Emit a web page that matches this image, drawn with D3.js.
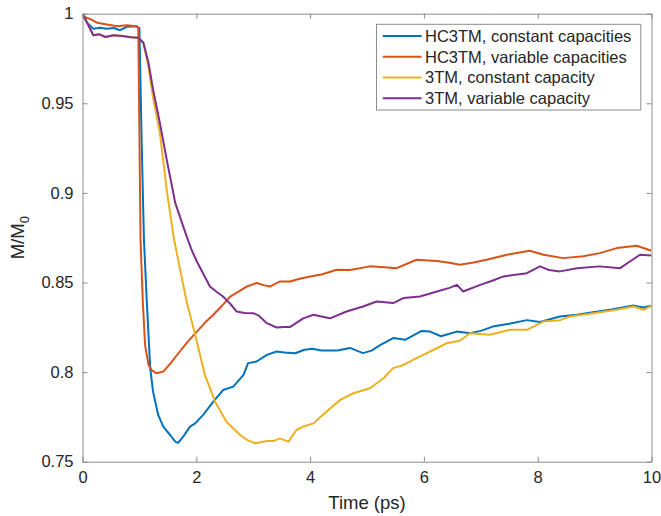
<!DOCTYPE html>
<html>
<head>
<meta charset="utf-8">
<script src="https://cdn.jsdelivr.net/npm/d3@7"></script>
<style>
  body { margin: 0; background: #fff; }
  svg text { font-family: "Liberation Sans", Arial, Helvetica, sans-serif; fill: #262626; }
</style>
</head>
<body>
<div id="chart"></div>
<script>
// series names + colors (matlab default order)
var seriesNames = ["HC3TM, constant capacities", "HC3TM, variable capacities",
                   "3TM, constant capacity", "3TM, variable capacity"];
var seriesColors = ["#0072BD", "#D95319", "#EDB120", "#7E2F8E"];

var xTicks = [0, 2, 4, 6, 8, 10];
var yTicks = [0.75, 0.8, 0.85, 0.9, 0.95, 1];

// HC3TM, constant capacities
var hcConstT = [0, 0.08, 0.19, 0.31, 0.43, 0.55, 0.66, 0.78, 0.95, 1.0, 1.04, 1.08, 1.13, 1.19, 1.24, 1.33, 1.42, 1.54, 1.63, 1.68,
    1.77, 1.89, 1.98, 2.12, 2.30, 2.47, 2.65, 2.83, 2.91, 3.06, 3.24, 3.41, 3.55, 3.74, 3.9, 4.04, 4.2, 4.48, 4.7, 4.93,
    5.08, 5.23, 5.46, 5.67, 5.96, 6.11, 6.3, 6.58, 6.81, 7.0, 7.21, 7.5, 7.81, 8.04, 8.39, 8.69, 8.97, 9.3, 9.68, 9.85, 10];
var hcConstM = [1, 0.995, 0.9916, 0.9922, 0.9916, 0.992, 0.9908, 0.9927, 0.993, 0.992, 0.928, 0.874, 0.8394, 0.8022, 0.7891, 0.7761, 0.7696, 0.7649, 0.7612, 0.7605,
    0.764, 0.7696, 0.7714, 0.7761, 0.7835, 0.790, 0.7919, 0.7985, 0.805, 0.8059, 0.8096, 0.8115, 0.811, 0.8105, 0.8125, 0.813, 0.812, 0.812, 0.8135, 0.8106,
    0.812, 0.815, 0.819, 0.818, 0.823, 0.8226, 0.820, 0.8226, 0.8217, 0.823, 0.8254, 0.827, 0.829, 0.828, 0.831, 0.832, 0.8334, 0.835, 0.8372, 0.836, 0.837];

// HC3TM, variable capacities
var hcVarT = [0, 0.05, 0.15, 0.26, 0.43, 0.61, 0.78, 0.95, 0.98, 1.02, 1.06, 1.10, 1.16, 1.22, 1.30, 1.42, 1.55, 1.71, 1.85, 2.01,
    2.15, 2.30, 2.45, 2.59, 2.75, 2.89, 3.06, 3.2, 3.30, 3.47, 3.65, 3.8, 4.0, 4.2, 4.47, 4.7, 5.05, 5.3, 5.52, 5.87,
    6.23, 6.45, 6.63, 6.85, 7.10, 7.46, 7.86, 8.1, 8.45, 8.80, 9.09, 9.39, 9.74, 10];
var hcVarM = [1, 0.998, 0.9968, 0.9949, 0.994, 0.993, 0.9935, 0.993, 0.992, 0.874, 0.8394, 0.815, 0.804, 0.801, 0.7994, 0.8003, 0.805, 0.8115, 0.817, 0.8226,
    0.8275, 0.832, 0.837, 0.842, 0.845, 0.8478, 0.8497, 0.8484, 0.8478, 0.8506, 0.8506, 0.852, 0.8534, 0.8545, 0.8571, 0.857, 0.859, 0.8585, 0.858, 0.8627,
    0.862, 0.861, 0.8599, 0.861, 0.8627, 0.8655, 0.8677, 0.8655, 0.8636, 0.8646, 0.8664, 0.8692, 0.8705, 0.8677];

// 3TM, constant capacity
var tmConstT = [0, 0.08, 0.19, 0.3, 0.4, 0.55, 0.7, 0.85, 0.98, 1.07, 1.16, 1.24, 1.36, 1.48, 1.60, 1.71, 1.83, 1.98, 2.15, 2.33,
    2.53, 2.77, 2.9, 3.03, 3.15, 3.24, 3.35, 3.47, 3.62, 3.76, 3.88, 4.06, 4.29, 4.53, 4.76, 5.05, 5.29, 5.46, 5.64, 5.87,
    6.11, 6.40, 6.63, 6.81, 7.16, 7.51, 7.81, 8.10, 8.39, 8.57, 8.98, 9.39, 9.68, 9.86, 10];
var tmConstM = [1, 0.995, 0.988, 0.9885, 0.987, 0.988, 0.9875, 0.9868, 0.9866, 0.9838, 0.970, 0.953, 0.9335, 0.9017, 0.8757, 0.858, 0.8394, 0.8208, 0.7985, 0.7835,
    0.7723, 0.7649, 0.762, 0.7603, 0.761, 0.7616, 0.7615, 0.763, 0.7612, 0.7677, 0.7696, 0.7714, 0.778, 0.7845, 0.7882, 0.791, 0.7966, 0.8022, 0.804, 0.8078,
    0.8115, 0.8161, 0.8175, 0.8217, 0.8208, 0.8236, 0.8236, 0.8282, 0.829, 0.831, 0.8329, 0.8348, 0.8366, 0.8348, 0.837];

// 3TM, variable capacity
var tmVarT = [0, 0.08, 0.19, 0.3, 0.4, 0.55, 0.7, 0.85, 0.98, 1.07, 1.16, 1.24, 1.36, 1.48, 1.63, 1.77, 1.83, 1.92, 2.01, 2.12,
    2.24, 2.35, 2.47, 2.6, 2.71, 2.85, 3.0, 3.1, 3.24, 3.41, 3.55, 3.65, 3.88, 4.06, 4.2, 4.35, 4.64, 4.93, 5.17, 5.46,
    5.64, 5.93, 6.23, 6.45, 6.58, 6.69, 6.99, 7.2, 7.40, 7.81, 8.04, 8.2, 8.39, 8.69, 9.09, 9.45, 9.62, 9.80, 10];
var tmVarM = [1, 0.995, 0.988, 0.9885, 0.987, 0.988, 0.9875, 0.9868, 0.9866, 0.9838, 0.9726, 0.9577, 0.939, 0.9186, 0.8944, 0.8813, 0.8757, 0.868, 0.8617, 0.855,
    0.8478, 0.845, 0.8422, 0.838, 0.8338, 0.833, 0.8329, 0.8315, 0.8273, 0.8249, 0.8252, 0.8252, 0.830, 0.832, 0.831, 0.830, 0.8338, 0.8366, 0.8394, 0.8385,
    0.8413, 0.8422, 0.845, 0.847, 0.8487, 0.845, 0.8487, 0.851, 0.8534, 0.8552, 0.859, 0.857, 0.8562, 0.858, 0.859, 0.858, 0.8617, 0.8655, 0.865];

var allT = [hcConstT, hcVarT, tmConstT, tmVarT];
var allM = [hcConstM, hcVarM, tmConstM, tmVarM];

var width = 661, height = 516;
var plot = { left: 82.5, right: 651.5, top: 13.7, bottom: 461.7 };
var axisColor = "#8c8c8c";

var svg = d3.select("#chart").append("svg")
    .attr("width", width)
    .attr("height", height);

var x = d3.scaleLinear().domain([0, 10]).range([plot.left, plot.right]);
var y = d3.scaleLinear().domain([0.75, 1]).range([plot.bottom, plot.top]);

svg.append("clipPath").attr("id", "clip")
    .append("rect")
    .attr("x", plot.left).attr("y", plot.top)
    .attr("width", plot.right - plot.left)
    .attr("height", plot.bottom - plot.top);

// lines
var line = d3.line()
    .x(function (d) { return x(d[0]); })
    .y(function (d) { return y(d[1]); });

var lines = svg.append("g").attr("clip-path", "url(#clip)");
allT.forEach(function (ts, i) {
    var pts = ts.map(function (t, j) { return [t, allM[i][j]]; });
    lines.append("path")
        .datum(pts)
        .attr("fill", "none")
        .attr("stroke", seriesColors[i])
        .attr("stroke-width", 2)
        .attr("stroke-linejoin", "round")
        .attr("d", line);
});

// axes (box with inward ticks, matlab style)
var tickLen = 5;
var xAxisCall = d3.axisBottom(x).tickValues(xTicks).tickSizeInner(-tickLen).tickSizeOuter(0).tickPadding(10).tickFormat(d3.format("d"));
var xAxisTop = d3.axisTop(x).tickValues(xTicks).tickSizeInner(-tickLen).tickSizeOuter(0).tickFormat("");
var yAxisCall = d3.axisLeft(y).tickValues(yTicks).tickSizeInner(-tickLen).tickSizeOuter(0).tickPadding(9)
    .tickFormat(function (d) { return String(+d.toFixed(2)); });
var yAxisRight = d3.axisRight(y).tickValues(yTicks).tickSizeInner(-tickLen).tickSizeOuter(0).tickFormat("");

function styleAxis(g) {
    g.select(".domain").attr("stroke", axisColor);
    g.selectAll(".tick line").attr("stroke", axisColor);
    g.selectAll("text").style("font-size", "16.5px").attr("fill", "#262626");
}

svg.append("g").attr("transform", "translate(0," + plot.bottom + ")").call(xAxisCall).call(styleAxis);
svg.append("g").attr("transform", "translate(0," + plot.top + ")").call(xAxisTop).call(styleAxis);
svg.append("g").attr("transform", "translate(" + plot.left + ",0)").call(yAxisCall).call(styleAxis);
svg.append("g").attr("transform", "translate(" + plot.right + ",0)").call(yAxisRight).call(styleAxis);

// axis labels
svg.append("text")
    .attr("x", (plot.left + plot.right) / 2)
    .attr("y", 509)
    .attr("text-anchor", "middle")
    .style("font-size", "18.5px")
    .text("Time (ps)");

var yl = svg.append("text")
    .attr("transform", "translate(24," + ((plot.top + plot.bottom) / 2) + ") rotate(-90)")
    .attr("text-anchor", "middle")
    .style("font-size", "18.5px");
yl.append("tspan").text("M/M");
yl.append("tspan").attr("dy", 5).style("font-size", "13px").text("0");

// legend
var legend = svg.append("g");
legend.append("rect")
    .attr("x", 376.5).attr("y", 24.3)
    .attr("width", 264.3).attr("height", 85.7)
    .attr("fill", "#fff")
    .attr("stroke", axisColor)
    .attr("stroke-width", 1);

seriesNames.forEach(function (name, i) {
    var cy = 36 + i * 20.75;
    legend.append("line")
        .attr("x1", 382.8).attr("x2", 421.6)
        .attr("y1", cy).attr("y2", cy)
        .attr("stroke", seriesColors[i])
        .attr("stroke-width", 2);
    legend.append("text")
        .attr("x", 425)
        .attr("y", cy)
        .attr("dy", "0.35em")
        .style("font-size", "16.5px")
        .text(name);
});
</script>
</body>
</html>
